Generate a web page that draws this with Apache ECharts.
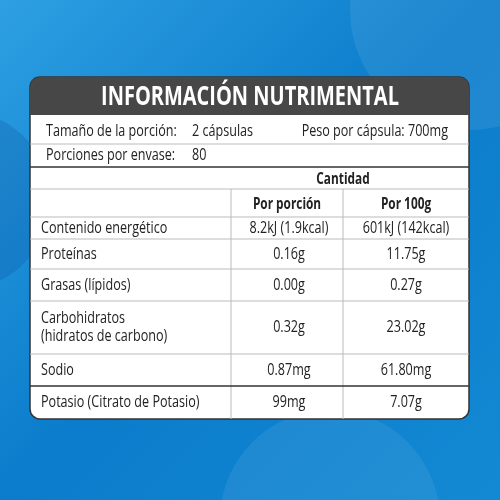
<!DOCTYPE html>
<html><head><meta charset="utf-8">
<script src="https://cdn.jsdelivr.net/npm/echarts@6/dist/echarts.min.js"></script>
<style>html,body{margin:0;padding:0;}#c{width:500px;height:500px;}</style>
</head><body><div id="c"></div>
<script>
var title = 'INFORMACIÓN NUTRIMENTAL';
var infoLabels = ['Tamaño de la porción:', 'Porciones por envase:'];
var infoValues = ['2 cápsulas', '80'];
var infoExtra = 'Peso por cápsula: 700mg';
var colHeaders = ['Cantidad', 'Por porción', 'Por 100g'];
var rowLabels = ['Contenido energético', 'Proteínas', 'Grasas (lípidos)', 'Carbohidratos\n(hidratos de carbono)', 'Sodio', 'Potasio (Citrato de Potasio)'];
var perPortion = ['8.2kJ (1.9kcal)', '0.16g', '0.00g', '0.32g', '0.87mg', '99mg'];
var per100g = ['601kJ (142kcal)', '11.75g', '0.27g', '23.02g', '61.80mg', '7.07g'];

var F = '"Open Sans",sans-serif';
var L = 30, R = 469, C1 = 231, C2 = 343;
var rowTops = [217, 239, 269, 301, 354, 386];
var rowBots = [239, 269, 301, 354, 386, 419];
var g = [];
g.push({type:'rect', shape:{x:0,y:0,width:500,height:500}, style:{fill:new echarts.graphic.LinearGradient(0,0,1,1,[{offset:0,color:'#2d9fe2'},{offset:0.5,color:'#0b7ccb'},{offset:1,color:'#1389d3'}])}, z:0});
g.push({type:'circle', shape:{cx:470,cy:10,r:120}, style:{fill:'rgba(255,255,255,0.08)'}, z:1});
g.push({type:'circle', shape:{cx:-40,cy:200,r:90}, style:{fill:'rgba(0,40,120,0.15)'}, z:1});
g.push({type:'circle', shape:{cx:330,cy:520,r:110}, style:{fill:'rgba(255,255,255,0.07)'}, z:1});
g.push({type:'rect', shape:{x:L,y:77,width:R-L,height:419-77,r:10}, style:{fill:'#ffffff',stroke:'#333',lineWidth:1.5}, z:2});
g.push({type:'rect', shape:{x:L,y:77,width:R-L,height:38,r:[10,10,0,0]}, style:{fill:'#474747'}, z:3});
function line(x1,y1,x2,y2,w,c){g.push({type:'line', shape:{x1:x1,y1:y1,x2:x2,y2:y2}, style:{stroke:c||'#bbb',lineWidth:w||1}, z:4});}
function txt(s,x,y,al,bold,size,col){g.push({type:'text', x:x, y:y, scaleX:0.74, style:{text:s, fill:col||'#222', font:(bold?'bold ':'')+(size||17)+'px '+F, align:al||'left', verticalAlign:'middle', lineHeight:18}, z:5});}
txt(title,250,97,'center',true,27,'#fff');
line(L,144,R,144,1,'#bbb');
line(L,167,R,167,1.5,'#333');
txt(infoLabels[0],46,131); txt(infoValues[0],192,131); txt(infoExtra,448,131,'right');
txt(infoLabels[1],46,155); txt(infoValues[1],192,155);
line(L,189,R,189,1,'#bbb');
line(L,217,R,217,1,'#bbb');
txt(colHeaders[0],343,179,'center',true,16);
txt(colHeaders[1],(C1+C2)/2,204,'center',true,16);
txt(colHeaders[2],(C2+R)/2,204,'center',true,16);
line(C1,189,C1,419,1,'#bbb');
line(C2,189,C2,419,1,'#bbb');
for (var i=0;i<rowLabels.length;i++){
  var y=(rowTops[i]+rowBots[i])/2;
  if(i>0) line(L,rowTops[i],R,rowTops[i],i===5?1.5:1,i===5?'#333':'#bbb');
  txt(rowLabels[i],41,y);
  txt(perPortion[i],(C1+C2)/2+2,y,'center');
  txt(per100g[i],(C2+R)/2,y,'center');
}
var chart = echarts.init(document.getElementById('c'));
chart.setOption({graphic:{elements:g}});
</script></body></html>
